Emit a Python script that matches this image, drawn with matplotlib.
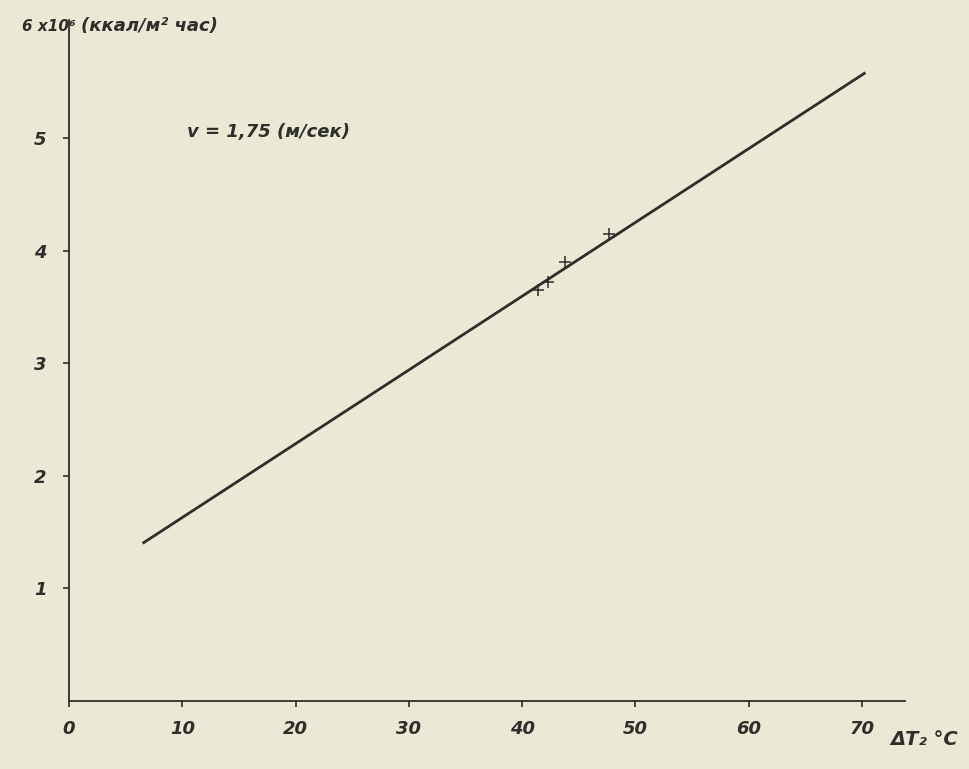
import matplotlib.pyplot as plt

# fitted line end points (x in degC, y in 10^6 kcal/m2 h)
line_x = [6.5, 70.3]
line_y = [1.40, 5.58]

# measured points
pts_x = [41.4, 42.3, 43.8, 47.7]
pts_y = [3.65, 3.72, 3.90, 4.15]

x_ticks = [0, 10, 20, 30, 40, 50, 60, 70]
y_ticks = [1, 2, 3, 4, 5]

paper = '#ebe8d6'
ink = '#2e2e2a'

fig = plt.figure(figsize=(9.7, 7.69), dpi=100, facecolor=paper)
ax = fig.add_axes([0.0711, 0.0884, 0.862, 0.886], facecolor=paper)

ax.plot(line_x, line_y, color=ink, lw=2.0, solid_capstyle='butt')
ax.plot(pts_x, pts_y, ls='none', marker='+', ms=8, mew=1.1, color=ink)

ax.set_xlim(0, 73.8)
ax.set_ylim(0, 6.05)
for s in ['top', 'right']:
    ax.spines[s].set_visible(False)
for s in ['left', 'bottom']:
    ax.spines[s].set_color(ink)
    ax.spines[s].set_linewidth(1.3)

font = dict(family='DejaVu Sans', weight='bold', style='italic', color=ink)

ax.set_xticks(x_ticks)
ax.set_xticklabels([str(t) for t in x_ticks], fontsize=13, **font)
ax.set_yticks(y_ticks)
ax.set_yticklabels([str(t) for t in y_ticks], fontsize=13, **font)
ax.tick_params(axis='both', direction='out', length=4, width=1.2, color=ink)
ax.tick_params(axis='x', pad=10)
ax.tick_params(axis='y', pad=12)

fig.text(0.078, 0.966, '6 x10\u2076', fontsize=11, va='center', ha='right', **font)
fig.text(0.084, 0.966, '(ккал/м\u00b2 час)', fontsize=13, va='center', ha='left', **font)
fig.text(0.193, 0.828, 'v = 1,75 (м/сек)', fontsize=13, va='center', ha='left', **font)
fig.text(0.918, 0.038, '\u0394T\u2082 \u00b0C', fontsize=14, va='center', ha='left', **font)

fig.savefig('out.png', dpi=100, facecolor=paper)
